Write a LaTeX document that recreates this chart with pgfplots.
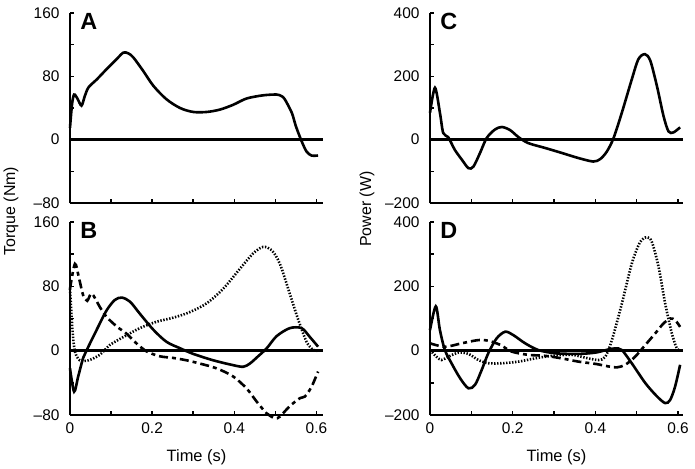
\documentclass[border=0pt]{standalone}
\usepackage{fontspec}
\setmainfont{Liberation Sans}
\usepackage{pgfplots}
\pgfplotsset{compat=1.18}
\tikzset{letter/.style={font=\fontsize{23.5}{26}\selectfont\bfseries, anchor=north west, inner sep=0pt}}
\begin{document}
\begin{tikzpicture}
\useasboundingbox (0bp,0bp) rectangle (695bp,-469bp);
\pgfplotsset{
  panel/.style={
    scale only axis, width=253bp, anchor=south west,
    axis x line=bottom, axis y line=left,
    axis line style={-, line width=1.8bp},
    every tick/.style={black, line width=1.5bp},
    tick align=inside, major tick length=4bp, minor tick length=4bp,
    xmin=0,
    xtick={0,0.1,0.2,0.3,0.4,0.5,0.6},
    /pgf/number format/assume math mode=true,
    tick label style={font=\fontsize{15.5}{18}\selectfont},
    yticklabel style={xshift=-7bp},
    xticklabel style={yshift=-4bp},
    label style={font=\fontsize{16.5}{19}\selectfont},
    xlabel style={yshift=-9bp},
    clip=false,
  },
  torque/.style={ymin=-80, ymax=160, xmax=0.616,
    ytick={-80,-40,0,40,80,120,160}, yticklabels={\textendash80,,0,,80,,160}},
  power/.style={ymin=-200, ymax=400, xmax=0.612,
    ytick={-200,-100,0,100,200,300,400}, yticklabels={\textendash200,,0,,200,,400}},
  curve/.style={black, line width=2.6bp, smooth, tension=0.5, no marks},
  dotc/.style={black, line width=2.6bp, smooth, tension=0.5, no marks, line cap=butt, dash pattern=on 1.4bp off 1.6bp},
  dashc/.style={black, line width=2.6bp, smooth, tension=0.5, no marks, dash pattern=on 9bp off 4bp on 4bp off 4bp},
  zeroline/.style={black, line width=2.4bp, no marks},
}
% Panel A
\begin{axis}[panel, torque, at={(70bp,-203bp)}, height=190bp, xticklabels={}]
\addplot[zeroline] coordinates {(0,0) (0.616,0)};
\addplot[curve] coordinates {
(0,15) (0.005,45) (0.01,57) (0.018,52) (0.028,43) (0.036,55) (0.045,66) (0.065,76)
(0.089,89) (0.114,102) (0.13,110) (0.142,109) (0.154,104) (0.178,87) (0.203,68)
(0.235,51) (0.268,40) (0.30,35) (0.333,35) (0.365,38) (0.397,44) (0.43,52) (0.47,56)
(0.503,57) (0.515,55) (0.523,51) (0.54,34) (0.55,17) (0.564,-2) (0.576,-15) (0.588,-20) (0.604,-20)};
\node[letter] at (rel axis cs:0.04,1) {A};
\end{axis}
% Panel B
\begin{axis}[panel, torque, at={(70bp,-415bp)}, height=193bp,
  xticklabels={0,,0.2,,0.4,,0.6}, xlabel={Time (s)}]
\addplot[zeroline] coordinates {(0,0) (0.616,0)};
\addplot[curve] coordinates {
(0,-22) (0.01,-51) (0.02,-32) (0.032,-9) (0.04,0) (0.065,26) (0.089,50) (0.109,63)
(0.126,66) (0.146,61) (0.17,46) (0.203,26) (0.235,11) (0.268,3) (0.30,-4) (0.349,-12)
(0.397,-18) (0.422,-20) (0.438,-16) (0.458,-7) (0.479,3) (0.503,18) (0.535,28) (0.564,28)
(0.584,17) (0.604,5)};
\addplot[dashc] coordinates {
(0,77) (0.012,108) (0.022,90) (0.032,69) (0.042,62) (0.053,71) (0.073,54) (0.089,42)
(0.114,30) (0.138,21) (0.162,9) (0.187,-1) (0.219,-7) (0.251,-9) (0.284,-12) (0.316,-16)
(0.357,-22) (0.397,-32) (0.43,-47) (0.454,-63) (0.479,-78) (0.499,-84) (0.511,-82)
(0.535,-69) (0.56,-59) (0.572,-57) (0.588,-45) (0.604,-26)};
\addplot[dotc] coordinates {
(0,77) (0.006,26) (0.012,-1) (0.024,-12) (0.045,-12) (0.073,-5) (0.097,7) (0.13,17)
(0.17,28) (0.211,36) (0.251,41) (0.292,48) (0.333,59) (0.373,77) (0.414,102) (0.446,121)
(0.47,129) (0.491,125) (0.511,108) (0.535,71) (0.556,38) (0.576,11) (0.592,1) (0.604,0)};
\node[letter] at (rel axis cs:0.04,1) {B};
\end{axis}
% Panel C
\begin{axis}[panel, power, at={(430bp,-203bp)}, height=190bp, xticklabels={}]
\addplot[zeroline] coordinates {(0,0) (0.612,0)};
\addplot[curve] coordinates {
(0,85) (0.012,164) (0.024,85) (0.032,21) (0.044,8) (0.06,-32) (0.077,-63) (0.093,-90)
(0.105,-85) (0.121,-42) (0.137,5) (0.157,32) (0.174,40) (0.194,30) (0.214,8) (0.238,-11)
(0.278,-26) (0.319,-42) (0.359,-58) (0.395,-69) (0.412,-61) (0.428,-37) (0.444,5)
(0.464,85) (0.488,190) (0.504,254) (0.52,270) (0.533,249) (0.549,169) (0.565,74)
(0.577,26) (0.589,23) (0.605,39)};
\node[letter] at (rel axis cs:0.04,1) {C};
\end{axis}
% Panel D
\begin{axis}[panel, power, at={(430bp,-415bp)}, height=193bp,
  xticklabels={0,,0.2,,0.4,,0.6}, xlabel={Time (s)}]
\addplot[zeroline] coordinates {(0,0) (0.612,0)};
\addplot[curve] coordinates {
(0,64) (0.014,138) (0.024,64) (0.036,2) (0.052,-39) (0.073,-86) (0.093,-117) (0.109,-106)
(0.125,-60) (0.141,-8) (0.161,38) (0.182,59) (0.202,48) (0.23,23) (0.262,2) (0.303,-8)
(0.359,-10) (0.40,-6) (0.432,4) (0.448,7) (0.464,2) (0.488,-39) (0.521,-101) (0.549,-142)
(0.569,-163) (0.581,-153) (0.593,-111) (0.605,-44)};
\addplot[dashc] coordinates {
(0,23) (0.036,12) (0.077,23) (0.117,33) (0.141,31) (0.17,18) (0.198,-3) (0.238,-13)
(0.278,-16) (0.319,-24) (0.359,-34) (0.40,-41) (0.432,-49) (0.452,-52) (0.472,-44)
(0.496,-19) (0.521,18) (0.545,54) (0.565,85) (0.581,100) (0.593,95) (0.605,74)};
\addplot[dotc] coordinates {
(0,2) (0.016,-19) (0.028,-29) (0.044,-19) (0.069,-6) (0.093,-10) (0.117,-29) (0.141,-39)
(0.174,-39) (0.214,-34) (0.254,-24) (0.295,-16) (0.343,-13) (0.383,-24) (0.408,-29)
(0.424,-19) (0.44,33) (0.464,146) (0.488,270) (0.508,337) (0.525,353) (0.537,337)
(0.553,260) (0.569,146) (0.585,54) (0.597,7) (0.605,0)};
\node[letter] at (rel axis cs:0.04,1) {D};
\end{axis}
\node[rotate=90, font=\fontsize{16}{19}\selectfont] at (11bp,-211bp) {Torque (Nm)};
\node[rotate=90, font=\fontsize{16}{19}\selectfont] at (367bp,-209bp) {Power (W)};
\end{tikzpicture}
\end{document}
